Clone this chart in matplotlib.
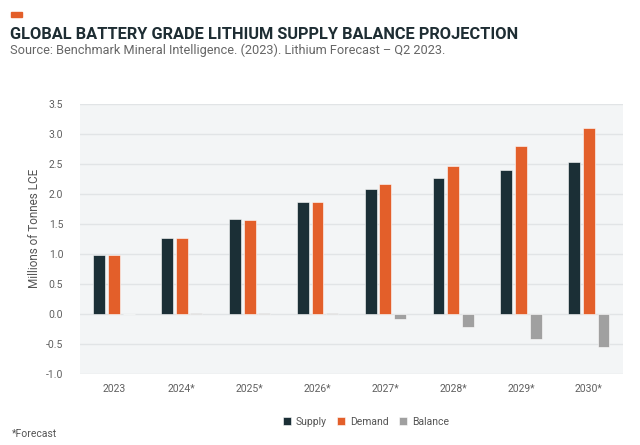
import numpy as np
import matplotlib.pyplot as plt
from matplotlib.patches import Rectangle

years = ["2023", "2024*", "2025*", "2026*", "2027*", "2028*", "2029*", "2030*"]
supply = [0.98, 1.27, 1.58, 1.87, 2.08, 2.27, 2.40, 2.53]
demand = [0.99, 1.26, 1.57, 1.86, 2.17, 2.47, 2.80, 3.10]
balance = [-0.01, 0.01, 0.01, 0.01, -0.08, -0.22, -0.42, -0.55]

C_SUPPLY = "#1b2f36"
C_DEMAND = "#e35f2a"
C_BALANCE = "#a0a0a0"

plt.rcParams["font.family"] = ["Roboto", "DejaVu Sans"]

fig = plt.figure(figsize=(6.4, 4.45), dpi=100)
ax = fig.add_axes([0.125, 0.160, 0.848, 0.606])
ax.set_facecolor("#f3f5f6")

x = np.arange(len(years))
w = 0.175
off = 0.216
ax.bar(x - off, supply, w, color=C_SUPPLY, edgecolor="white", linewidth=0.4, label="Supply", zorder=3)
ax.bar(x, demand, w, color=C_DEMAND, edgecolor="white", linewidth=0.4, label="Demand", zorder=3)
ax.bar(x + off, balance, w, color=C_BALANCE, edgecolor="white", linewidth=0.4, label="Balance", zorder=3)

ax.set_xlim(-0.5, len(years) - 0.5)
ax.set_ylim(-1.0, 3.5)
ax.set_yticks(np.arange(-1.0, 3.51, 0.5))
ax.set_yticklabels([f"{v:.1f}" for v in np.arange(-1.0, 3.51, 0.5)])
ax.set_xticks(x)
ax.set_xticklabels(years)
ax.grid(axis="y", color="#e1e4e6", linewidth=1.0, zorder=1)
ax.tick_params(length=0, labelsize=7.5, labelcolor="#606060")
ax.tick_params(axis="x", pad=7)
ax.tick_params(axis="y", pad=12)
for s in ax.spines.values():
    s.set_visible(False)
ax.set_ylabel("Millions of Tonnes LCE", fontsize=8.5, color="#555555")
ax.yaxis.set_label_coords(-0.072, 0.54)

leg = ax.legend(loc="upper center", bbox_to_anchor=(0.527, -0.125), ncol=3, frameon=False,
                fontsize=7.5, handlelength=0.75, handleheight=0.75, handletextpad=0.5,
                columnspacing=1.0, labelcolor="#555555")

fig.patches.append(Rectangle((11 / 640, 1 - 17 / 445), 11 / 640, 5 / 445,
                             transform=fig.transFigure, color=C_DEMAND))
fig.text(10 / 640, 1 - 39 / 445, "GLOBAL BATTERY GRADE LITHIUM SUPPLY BALANCE PROJECTION",
         fontsize=11.8, fontweight="bold", color="#1e2d33", va="baseline")
fig.text(10 / 640, 1 - 54 / 445, "Source: Benchmark Mineral Intelligence. (2023). Lithium Forecast \u2013 Q2 2023.",
         fontsize=9.2, color="#666666", va="baseline")
fig.text(12 / 640, 1 - 437 / 445, "*Forecast", fontsize=7.5, color="#555555", va="baseline")

fig.savefig("out.png", dpi=100)
